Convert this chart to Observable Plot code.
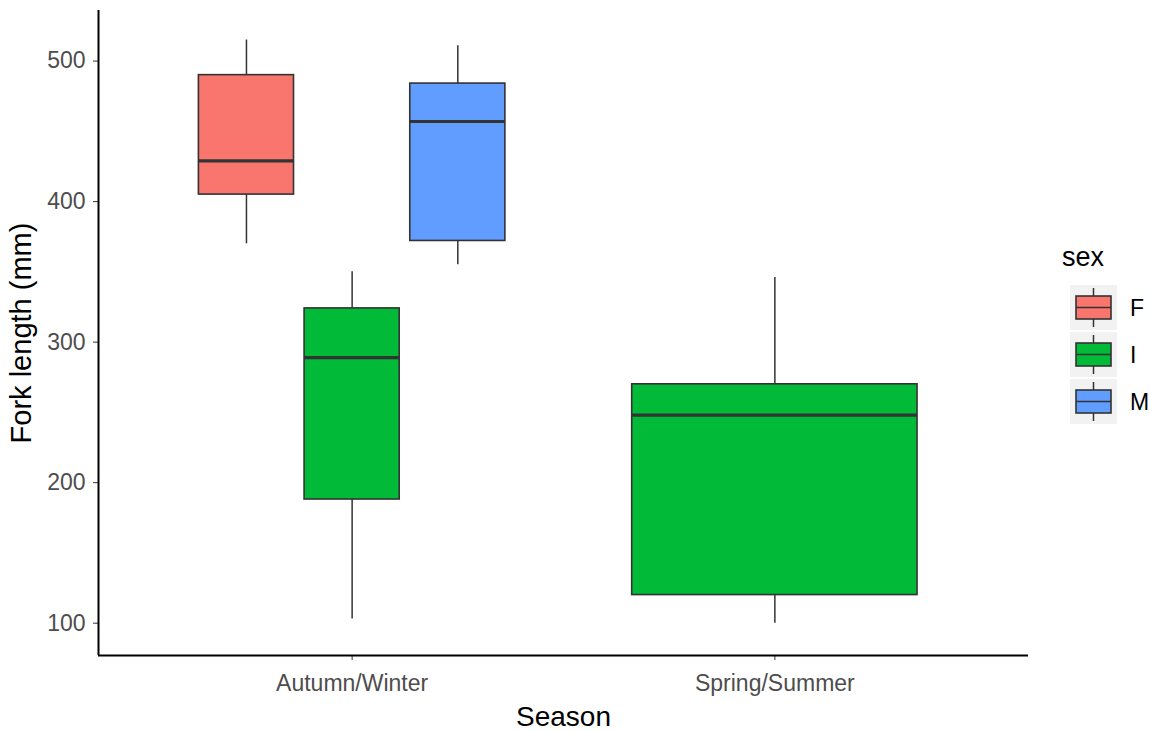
<!DOCTYPE html>
<html>
<head>
<meta charset="utf-8">
<script src="https://cdn.jsdelivr.net/npm/d3@7"></script>
<script src="https://cdn.jsdelivr.net/npm/@observablehq/plot@0.6"></script>
<style>
  html, body { margin: 0; padding: 0; background: #fff; }
  #wrap { position: relative; width: 1150px; height: 731px; font-family: "Liberation Sans", Arial, sans-serif; }
  #legend { position: absolute; left: 1050px; top: 235px; }
</style>
</head>
<body>
<div id="wrap">
  <div id="chart"></div>
  <div id="legend"></div>
</div>
<script>
// ---- data ----
const seasons = ["Autumn/Winter", "Spring/Summer"];
const sexes = ["F", "I", "M"];
const sexColors = ["#F8766D", "#00BA38", "#619CFF"];
const boxSeason = ["Autumn/Winter", "Autumn/Winter", "Autumn/Winter", "Spring/Summer"];
const boxSex = ["F", "I", "M", "I"];
const whiskerLow = [370, 103, 355, 100];
const q1 = [405, 188, 372, 120];
const median = [429, 289, 457, 248];
const q3 = [490, 324, 484, 270];
const whiskerHigh = [515, 350, 511, 346];
const yTicks = [100, 200, 300, 400, 500];

// ---- build table with dodge positions (ggplot position_dodge2, width 0.75, padding 0.1) ----
const boxes = boxSex.map((s, i) => ({
  season: boxSeason[i], sex: s,
  ymin: whiskerLow[i], lower: q1[i], middle: median[i], upper: q3[i], ymax: whiskerHigh[i]
}));
seasons.forEach((season, si) => {
  const grp = boxes.filter(d => d.season === season);
  const n = grp.length;
  const slot = 0.75 / n;
  grp.forEach((d, k) => {
    d.xc = (si + 1) - 0.375 + (k + 0.5) * slot;
    d.x1 = d.xc - slot * 0.9 / 2;
    d.x2 = d.xc + slot * 0.9 / 2;
  });
});

const font = `"Liberation Sans", Arial, sans-serif`;

const chart = Plot.plot({
  width: 1150,
  height: 731,
  marginLeft: 98,
  marginRight: 122,
  marginTop: 10,
  marginBottom: 76,
  style: { fontFamily: font, background: "#fff" },
  x: { type: "linear", domain: [0.4, 2.6] },
  y: { domain: [77, 536] },
  color: { domain: sexes, range: sexColors },
  marks: [
    Plot.ruleX(boxes, { x: "xc", y1: "ymin", y2: "lower", stroke: "#333", strokeWidth: 1.5 }),
    Plot.ruleX(boxes, { x: "xc", y1: "upper", y2: "ymax", stroke: "#333", strokeWidth: 1.5 }),
    Plot.rect(boxes, { x1: "x1", x2: "x2", y1: "lower", y2: "upper", fill: "sex", stroke: "#333", strokeWidth: 1.6 }),
    Plot.ruleY(boxes, { x1: "x1", x2: "x2", y: "middle", stroke: "#333", strokeWidth: 3.2 }),
    Plot.axisY({ ticks: yTicks, tickSize: 5, tickPadding: 8, fontSize: 23, color: "#4D4D4D", stroke: "#333", label: null }),
    Plot.axisX({ ticks: [1, 2], tickFormat: i => seasons[i - 1], tickSize: 5, tickPadding: 14, fontSize: 23, color: "#4D4D4D", stroke: "#333", label: null }),
    Plot.ruleX([0.4], { stroke: "#000", strokeWidth: 2 }),
    Plot.ruleY([77], { stroke: "#000", strokeWidth: 2 }),
    Plot.text(["Fork length (mm)"], { frameAnchor: "left", textAnchor: "middle", dx: -77, rotate: -90, fontSize: 29, fill: "#000" }),
    Plot.text(["Season"], { frameAnchor: "bottom", dy: 70, fontSize: 28, fill: "#000" })
  ]
});
document.getElementById("chart").appendChild(chart);

// ---- legend ----
const lg = d3.select("#legend").append("svg")
  .attr("width", 100).attr("height", 200)
  .style("font-family", font);
lg.append("text").attr("x", 12).attr("y", 31).attr("font-size", 27).attr("fill", "#000").text("sex");
sexes.forEach((s, i) => {
  const g = lg.append("g").attr("transform", `translate(20, ${50 + i * 47})`);
  g.append("rect").attr("x", 0).attr("y", 0).attr("width", 47).attr("height", 45).attr("fill", "#F2F2F2");
  g.append("line").attr("x1", 23.5).attr("x2", 23.5).attr("y1", 3).attr("y2", 42).attr("stroke", "#333").attr("stroke-width", 1.5);
  g.append("rect").attr("x", 6).attr("y", 11).attr("width", 35).attr("height", 23).attr("fill", sexColors[i]).attr("stroke", "#333").attr("stroke-width", 1.6);
  g.append("line").attr("x1", 6).attr("x2", 41).attr("y1", 22.5).attr("y2", 22.5).attr("stroke", "#333").attr("stroke-width", 1.6);
  lg.append("text").attr("x", 80).attr("y", 50 + i * 47 + 22.5).attr("dy", "0.35em").attr("font-size", 23).attr("fill", "#000").text(s);
});
</script>
</body>
</html>
